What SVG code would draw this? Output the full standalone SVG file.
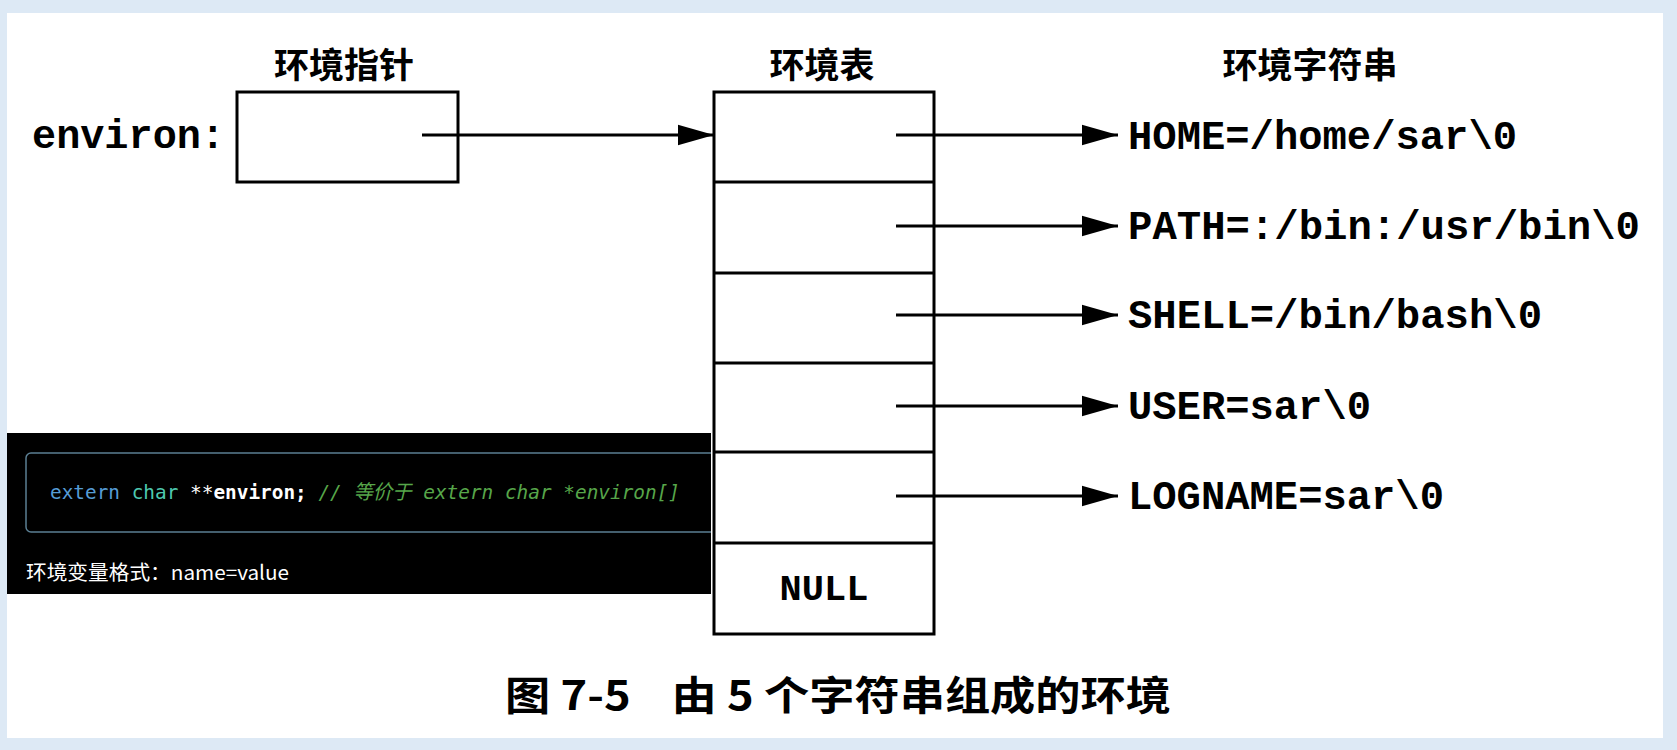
<svg xmlns="http://www.w3.org/2000/svg" width="1677" height="750" viewBox="0 0 1677 750">
<style>
.cjk{font-family:"Noto Sans CJK SC","Noto Sans",sans-serif;font-weight:bold;fill:#000}
.mono{font-family:"Liberation Mono","DejaVu Sans Mono",monospace;font-weight:bold;fill:#000}
.box{fill:#fff;stroke:#000;stroke-width:3}
.ln{stroke:#000;stroke-width:3;fill:none}
.code{font-family:"DejaVu Sans Mono","Liberation Mono","Noto Sans CJK SC",monospace;font-size:20px}
</style>
<defs>
<marker id="ah" markerWidth="12" markerHeight="8" refX="12" refY="4" orient="auto" markerUnits="strokeWidth">
<path d="M0,0.6 L12,4 L0,7.4 z" fill="#000"/>
</marker>
<clipPath id="panelClip"><rect x="7" y="433" width="704" height="161"/></clipPath>
</defs>
<rect x="0" y="0" width="1677" height="750" fill="#dde9f5"/>
<rect x="7" y="13" width="1656" height="725" fill="#fff"/>

<g id="title-pointer"><text class="cjk" x="344" y="78" font-size="35" text-anchor="middle">环境指针</text></g>
<g id="title-table"><text class="cjk" x="822" y="78" font-size="35" text-anchor="middle">环境表</text></g>
<g id="title-strings"><text class="cjk" x="1310" y="78" font-size="35" text-anchor="middle">环境字符串</text></g>

<g id="environ">
<text class="mono" x="32" y="148" font-size="40" textLength="193" lengthAdjust="spacingAndGlyphs">environ:</text>
<rect class="box" x="237" y="92" width="221" height="90"/>
</g>

<g id="env-table">
<rect class="box" x="714" y="92" width="220" height="542"/>
<line class="ln" x1="714" y1="182" x2="934" y2="182"/>
<line class="ln" x1="714" y1="273" x2="934" y2="273"/>
<line class="ln" x1="714" y1="363" x2="934" y2="363"/>
<line class="ln" x1="714" y1="452" x2="934" y2="452"/>
<line class="ln" x1="714" y1="543" x2="934" y2="543"/>
<text class="mono" x="824" y="600" font-size="37" text-anchor="middle">NULL</text>
</g>

<g id="strings">
<text id="s-home" class="mono" x="1128" y="149" font-size="40" textLength="389" lengthAdjust="spacingAndGlyphs">HOME=/home/sar\0</text>
<text id="s-path" class="mono" x="1128" y="239" font-size="40" textLength="512" lengthAdjust="spacingAndGlyphs">PATH=:/bin:/usr/bin\0</text>
<text id="s-shell" class="mono" x="1128" y="328" font-size="40" textLength="414" lengthAdjust="spacingAndGlyphs">SHELL=/bin/bash\0</text>
<text id="s-user" class="mono" x="1128" y="419" font-size="40" textLength="243" lengthAdjust="spacingAndGlyphs">USER=sar\0</text>
<text id="s-logname" class="mono" x="1128" y="509" font-size="40" textLength="316" lengthAdjust="spacingAndGlyphs">LOGNAME=sar\0</text>
</g>

<g id="connectors">
<line class="ln" x1="422" y1="135" x2="714" y2="135" marker-end="url(#ah)"/>
<line class="ln" x1="896" y1="135" x2="1118" y2="135" marker-end="url(#ah)"/>
<line class="ln" x1="896" y1="226" x2="1118" y2="226" marker-end="url(#ah)"/>
<line class="ln" x1="896" y1="315" x2="1118" y2="315" marker-end="url(#ah)"/>
<line class="ln" x1="896" y1="406" x2="1118" y2="406" marker-end="url(#ah)"/>
<line class="ln" x1="896" y1="496" x2="1118" y2="496" marker-end="url(#ah)"/>
</g>

<g id="code-panel">
<rect x="7" y="433" width="704" height="161" fill="#000"/>
<rect x="26" y="453" width="720" height="79" rx="5" fill="#000" stroke="#5b7f93" stroke-width="1.5" clip-path="url(#panelClip)"/>
<text class="code" x="50" y="499" textLength="630" lengthAdjust="spacingAndGlyphs"><tspan fill="#569cd6">extern</tspan><tspan fill="#4ec9b0"> char</tspan><tspan fill="#ffffff"> **</tspan><tspan fill="#ffffff" font-weight="bold">environ;</tspan><tspan fill="#57a64a" font-style="italic"> // 等价于 extern char *environ[]</tspan></text>
<text x="26" y="580" font-family="'Noto Sans CJK SC','Noto Sans',sans-serif" font-size="20" fill="#ffffff" textLength="263" lengthAdjust="spacingAndGlyphs">环境变量格式：name=value</text>
</g>

<g id="caption"><text x="505" y="710" font-family="'Noto Sans CJK SC','Noto Sans',sans-serif" font-size="40" font-weight="bold" fill="#000" xml:space="preserve" textLength="666" lengthAdjust="spacingAndGlyphs">图 7-5    由 5 个字符串组成的环境</text></g>
</svg>
